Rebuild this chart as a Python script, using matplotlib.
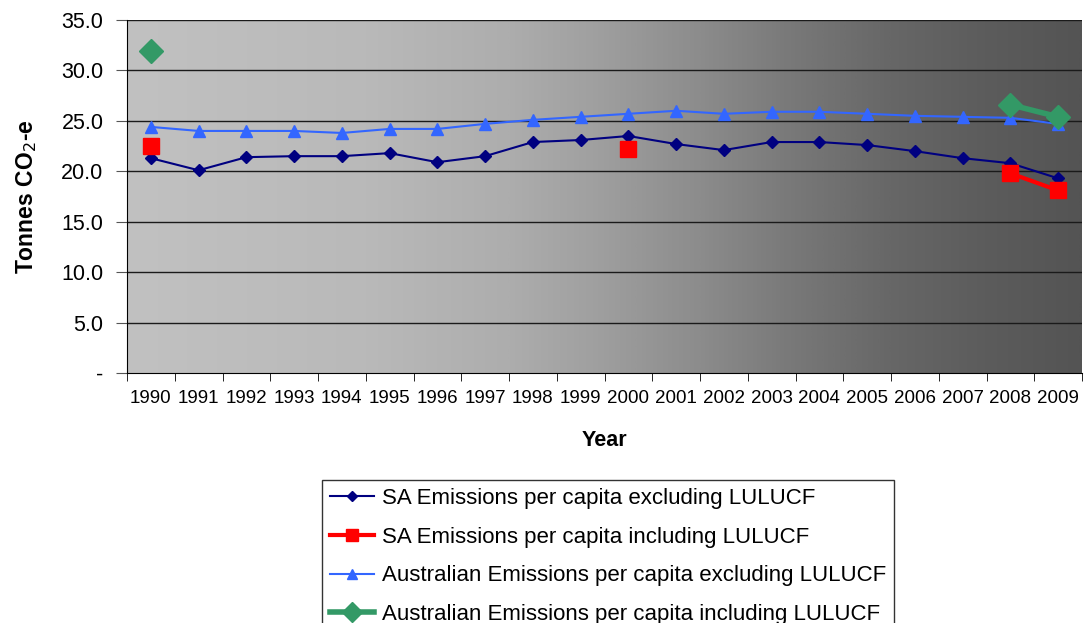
import numpy as np
import matplotlib
matplotlib.use("Agg")
import matplotlib.pyplot as plt
from matplotlib.colors import LinearSegmentedColormap

plt.rcParams['font.family'] = ['Liberation Sans', 'DejaVu Sans']

years = [str(y) for y in range(1990, 2010)]
sa_excl = [21.3, 20.1, 21.4, 21.5, 21.5, 21.8, 20.9, 21.5, 22.9, 23.1, 23.5, 22.7,
           22.1, 22.9, 22.9, 22.6, 22.0, 21.3, 20.8, 19.3]
sa_incl = [22.5, None, None, None, None, None, None, None, None, None, 22.2, None,
           None, None, None, None, None, None, 19.8, 18.1]
aus_excl = [24.4, 24.0, 24.0, 24.0, 23.8, 24.2, 24.2, 24.7, 25.1, 25.4, 25.7, 26.0,
            25.7, 25.9, 25.9, 25.7, 25.5, 25.4, 25.3, 24.7]
aus_incl = [31.9, None, None, None, None, None, None, None, None, None, None, None,
            None, None, None, None, None, None, 26.6, 25.4]

yticks = [0, 5, 10, 15, 20, 25, 30, 35]
ytick_labels = ['-', '5.0', '10.0', '15.0', '20.0', '25.0', '30.0', '35.0']


def arr(v):
    return np.array([np.nan if x is None else x for x in v], dtype=float)


fig = plt.figure(figsize=(10.85, 6.23), dpi=100)
ax = fig.add_axes([127 / 1085, 1 - 373 / 623, (1082 - 127) / 1085, (373 - 20) / 623])

x = np.arange(len(years))
ax.set_xlim(-0.5, len(years) - 0.5)
ax.set_ylim(0, 35)

# gradient background
stops = [(0.0, 193), (0.25, 185), (0.4, 173), (0.5, 158), (0.6, 140), (0.7, 120),
         (0.8, 103), (0.9, 92), (1.0, 84)]
cmap = LinearSegmentedColormap.from_list(
    'bg', [(p, (g / 255, g / 255, g / 255)) for p, g in stops])
grad = np.linspace(0, 1, 512).reshape(1, -1)
ax.imshow(grad, cmap=cmap, aspect='auto', extent=[-0.5, len(years) - 0.5, 0, 35],
          zorder=0, interpolation='bilinear')

for yv in yticks[1:]:
    ax.axhline(yv, color='#1a1a1a', lw=1.0, zorder=1)

ax.plot(x, arr(sa_excl), color='#000080', lw=1.5, marker='D', ms=6,
        label='SA Emissions per capita excluding LULUCF', zorder=3)
ax.plot(x, arr(sa_incl), color='#FF0000', lw=3, marker='s', ms=11,
        label='SA Emissions per capita including LULUCF', zorder=4)
ax.plot(x, arr(aus_excl), color='#3366FF', lw=1.5, marker='^', ms=9,
        label='Australian Emissions per capita excluding LULUCF', zorder=3)
ax.plot(x, arr(aus_incl), color='#339966', lw=4, marker='D', ms=12,
        label='Australian Emissions per capita including LULUCF', zorder=4)

ax.set_yticks(yticks)
ax.set_yticklabels(ytick_labels, fontsize=15.5)
ax.set_xticks(x)
ax.set_xticklabels(years, fontsize=13.5)
ax.set_xticks(np.arange(-0.5, len(years), 1.0), minor=True)
ax.tick_params(axis='x', which='major', length=0, pad=12)
ax.tick_params(axis='x', which='minor', length=6, color='black', direction='out')
ax.tick_params(axis='y', length=8, color='#555555', direction='out', pad=9)

for s in ['top', 'right']:
    ax.spines[s].set_visible(False)
ax.spines['left'].set_color('black')
ax.spines['bottom'].set_color('black')
ax.spines['left'].set_zorder(5)
ax.spines['bottom'].set_zorder(5)

ax.set_xlabel('Year', fontsize=15.5, fontweight='bold', labelpad=17)
ax.set_ylabel('Tonnes CO$_2$-e', fontsize=16.5, fontweight='bold', labelpad=16)

leg = fig.legend(loc='upper left', bbox_to_anchor=(322 / 1085, 1 - 480 / 623),
                 fontsize=16, frameon=True, fancybox=False, edgecolor='black',
                 borderpad=0.35, labelspacing=0.8, handlelength=2.0,
                 handletextpad=0.35, borderaxespad=0, markerscale=0.85)
leg.get_frame().set_linewidth(1.0)

fig.savefig('out.png', dpi=100)
